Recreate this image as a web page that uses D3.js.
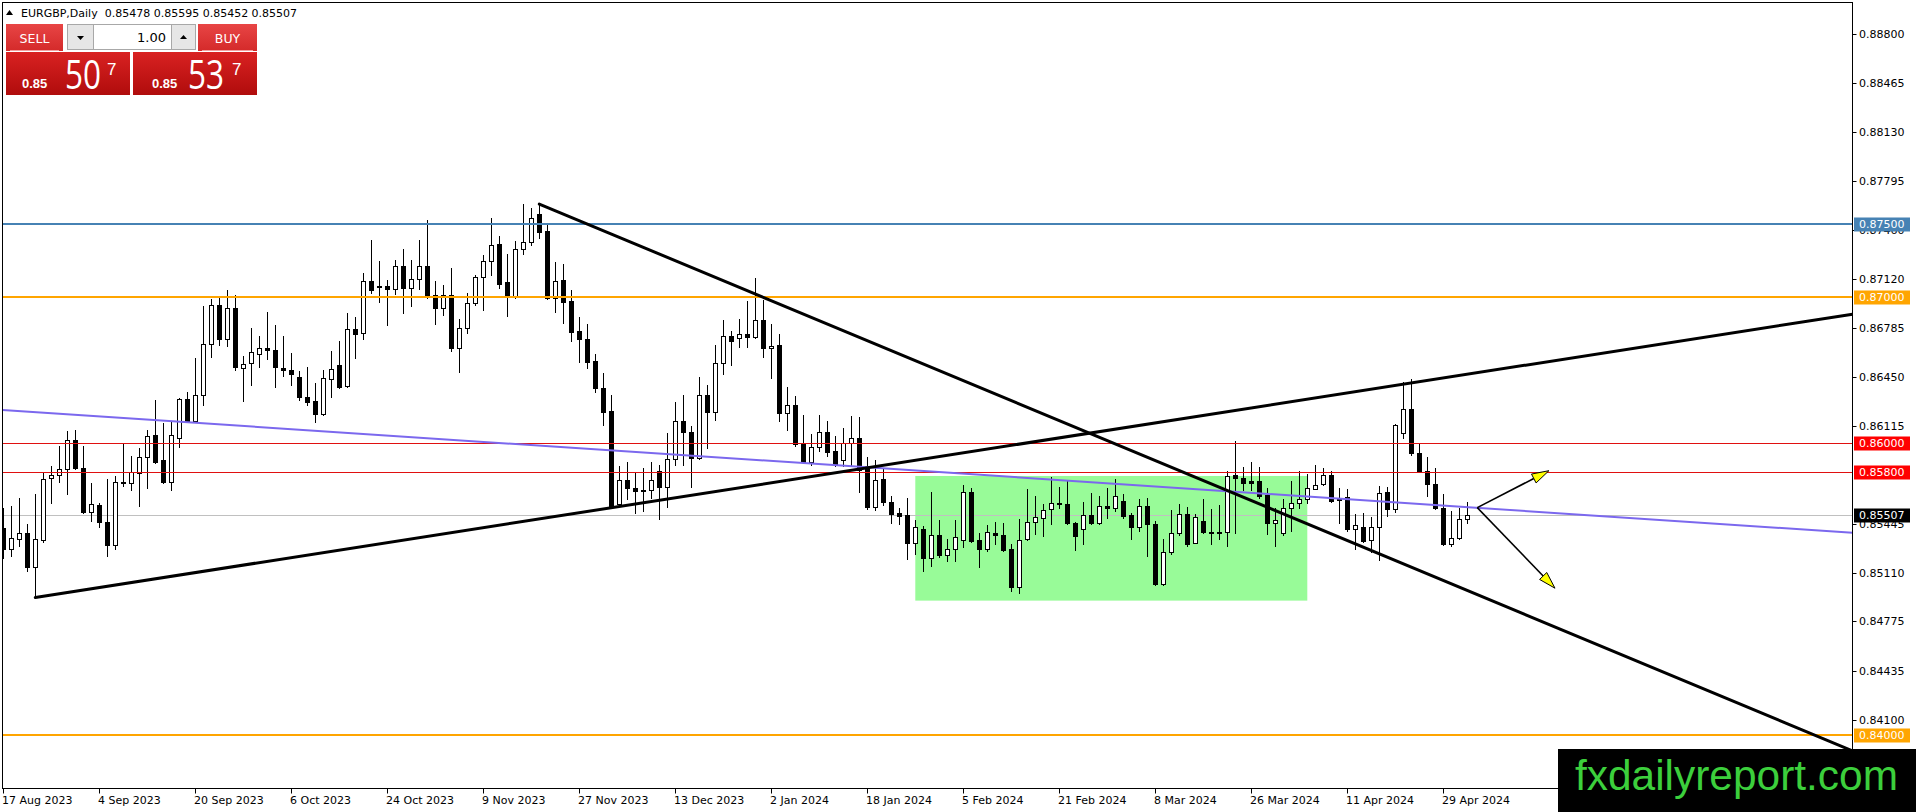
<!DOCTYPE html>
<html><head><meta charset="utf-8">
<script src="https://cdn.jsdelivr.net/npm/d3@7"></script>
<style>html,body{margin:0;padding:0;background:#fff;overflow:hidden}</style>
</head><body><svg id="c" width="1916" height="812" xmlns="http://www.w3.org/2000/svg"></svg>
<script>
// ---------------- DATA ----------------
const symbolTitle = "EURGBP,Daily";
const lastOHLC = ["0.85478","0.85595","0.85452","0.85507"];
const barOpen = [0.85418,0.85269,0.85342,0.85383,0.85149,0.85333,0.85760,0.85780,0.85821,0.86015,0.85828,0.85525,0.85570,0.85459,0.85299,0.85732,0.85725,0.85794,0.85903,0.86056,0.85878,0.85730,0.86033,0.86300,0.86152,0.86325,0.86676,0.86943,0.86710,0.86922,0.86512,0.86546,0.86608,0.86649,0.86637,0.86512,0.86501,0.86451,0.86311,0.86286,0.86197,0.86435,0.86533,0.86389,0.86777,0.86749,0.87109,0.87073,0.87073,0.87050,0.87210,0.87057,0.87119,0.87210,0.87011,0.86920,0.87011,0.86647,0.86783,0.86954,0.87132,0.87244,0.87358,0.87098,0.87005,0.87324,0.87376,0.87570,0.87449,0.86989,0.87114,0.86970,0.86765,0.86708,0.86560,0.86373,0.86220,0.85580,0.85746,0.85689,0.85666,0.85678,0.85808,0.85696,0.85887,0.86150,0.86072,0.85894,0.86327,0.86207,0.86544,0.86731,0.86715,0.86742,0.86726,0.86840,0.86651,0.86670,0.86202,0.86259,0.85997,0.85865,0.85969,0.86070,0.85940,0.85878,0.85997,0.86031,0.85837,0.85559,0.85751,0.85593,0.85518,0.85503,0.85316,0.85412,0.85207,0.85366,0.85229,0.85275,0.85332,0.85665,0.85332,0.85275,0.85384,0.85366,0.85270,0.85008,0.85339,0.85460,0.85487,0.85544,0.85590,0.85583,0.85453,0.85412,0.85507,0.85453,0.85569,0.85555,0.85603,0.85503,0.85419,0.85567,0.85446,0.85031,0.85248,0.85378,0.85514,0.85316,0.85464,0.85391,0.85378,0.85389,0.85777,0.85756,0.85736,0.85736,0.85640,0.85453,0.85378,0.85555,0.85590,0.85612,0.85686,0.85720,0.85777,0.85617,0.85631,0.85412,0.85419,0.85334,0.85419,0.85665,0.85549,0.86068,0.86233,0.85932,0.85806,0.85720,0.85555,0.85309,0.85350,0.85478];
const barHigh = [0.85555,0.85566,0.85618,0.85440,0.85646,0.85794,0.85839,0.85976,0.86083,0.86090,0.85976,0.85721,0.85584,0.85753,0.85771,0.85999,0.85912,0.85965,0.86090,0.86291,0.86136,0.86140,0.86307,0.86348,0.86580,0.86934,0.86986,0.86995,0.87048,0.87014,0.86596,0.86786,0.86733,0.86895,0.86808,0.86729,0.86615,0.86490,0.86521,0.86407,0.86498,0.86628,0.86697,0.86886,0.86863,0.87160,0.87388,0.87244,0.87114,0.87251,0.87326,0.87251,0.87388,0.87524,0.87107,0.87080,0.87194,0.86845,0.87023,0.87148,0.87285,0.87536,0.87417,0.87290,0.87381,0.87638,0.87609,0.87632,0.87490,0.87239,0.87223,0.87046,0.86863,0.86811,0.86606,0.86476,0.86330,0.85837,0.85865,0.85792,0.85826,0.85867,0.85849,0.86065,0.86282,0.86327,0.86111,0.86448,0.86396,0.86669,0.86840,0.86765,0.86845,0.86973,0.87125,0.86977,0.86813,0.86742,0.86384,0.86320,0.86191,0.86058,0.86191,0.86150,0.86047,0.86099,0.86184,0.86179,0.85901,0.85878,0.85819,0.85632,0.85553,0.85624,0.85471,0.85430,0.85665,0.85469,0.85339,0.85469,0.85708,0.85692,0.85384,0.85435,0.85460,0.85453,0.85305,0.85476,0.85685,0.85635,0.85583,0.85767,0.85699,0.85738,0.85460,0.85596,0.85658,0.85635,0.85692,0.85749,0.85651,0.85521,0.85612,0.85619,0.85464,0.85339,0.85537,0.85583,0.85560,0.85514,0.85612,0.85544,0.85571,0.85806,0.86011,0.85834,0.85870,0.85836,0.85692,0.85555,0.85612,0.85738,0.85806,0.85783,0.85847,0.85829,0.85806,0.85692,0.85685,0.85514,0.85517,0.85490,0.85704,0.85699,0.86130,0.86415,0.86433,0.85989,0.85904,0.85824,0.85647,0.85533,0.85555,0.85595];
const barLow = [0.85212,0.85224,0.85292,0.85121,0.84939,0.85320,0.85589,0.85730,0.85646,0.85820,0.85520,0.85463,0.85422,0.85224,0.85269,0.85703,0.85675,0.85566,0.85691,0.85860,0.85725,0.85675,0.85972,0.86140,0.86140,0.86261,0.86587,0.86667,0.86660,0.86496,0.86284,0.86398,0.86517,0.86574,0.86380,0.86455,0.86398,0.86290,0.86259,0.86145,0.86191,0.86316,0.86378,0.86380,0.86583,0.86710,0.87023,0.86966,0.86806,0.87018,0.86891,0.86936,0.87050,0.86989,0.86811,0.86875,0.86628,0.86482,0.86754,0.86943,0.86909,0.87148,0.87062,0.86870,0.86989,0.87296,0.87353,0.87404,0.86984,0.86897,0.86822,0.86699,0.86555,0.86514,0.86346,0.86122,0.85552,0.85575,0.85614,0.85518,0.85529,0.85621,0.85477,0.85557,0.85849,0.85849,0.85696,0.85890,0.85963,0.86156,0.86471,0.86530,0.86653,0.86653,0.86720,0.86585,0.86441,0.86152,0.86088,0.85974,0.85860,0.85849,0.85940,0.85912,0.85837,0.85837,0.85849,0.85659,0.85545,0.85541,0.85575,0.85450,0.85440,0.85202,0.85236,0.85122,0.85156,0.85220,0.85191,0.85191,0.85282,0.85320,0.85150,0.85259,0.85305,0.85259,0.84985,0.84970,0.85330,0.85373,0.85362,0.85441,0.85555,0.85441,0.85266,0.85309,0.85446,0.85446,0.85487,0.85533,0.85482,0.85343,0.85396,0.85225,0.85024,0.85024,0.85236,0.85370,0.85293,0.85311,0.85384,0.85305,0.85339,0.85289,0.85384,0.85674,0.85674,0.85624,0.85373,0.85289,0.85370,0.85396,0.85555,0.85585,0.85680,0.85710,0.85594,0.85453,0.85396,0.85275,0.85320,0.85252,0.85197,0.85498,0.85526,0.86030,0.85916,0.85800,0.85635,0.85549,0.85300,0.85293,0.85343,0.85452];
const barClose = [0.85269,0.85349,0.85383,0.85149,0.85338,0.85753,0.85782,0.85821,0.86015,0.85828,0.85525,0.85577,0.85456,0.85299,0.85732,0.85725,0.85798,0.85903,0.86045,0.85867,0.85730,0.86054,0.86300,0.86152,0.86325,0.86676,0.86943,0.86710,0.86922,0.86517,0.86539,0.86622,0.86649,0.86633,0.86517,0.86496,0.86471,0.86314,0.86282,0.86197,0.86441,0.86505,0.86384,0.86777,0.86742,0.87109,0.87046,0.87070,0.87050,0.87210,0.87057,0.87119,0.87210,0.87005,0.86920,0.87011,0.86651,0.86783,0.86954,0.87132,0.87244,0.87353,0.87087,0.87005,0.87324,0.87376,0.87540,0.87445,0.86989,0.87107,0.86966,0.86761,0.86708,0.86555,0.86373,0.86213,0.85559,0.85746,0.85689,0.85666,0.85673,0.85741,0.85696,0.85887,0.86150,0.86070,0.85894,0.86327,0.86207,0.86544,0.86731,0.86699,0.86742,0.86726,0.86840,0.86651,0.86665,0.86202,0.86259,0.85990,0.85865,0.85969,0.86070,0.85935,0.85856,0.85997,0.86031,0.85815,0.85557,0.85746,0.85593,0.85511,0.85498,0.85316,0.85419,0.85207,0.85366,0.85229,0.85275,0.85357,0.85663,0.85327,0.85275,0.85391,0.85366,0.85266,0.85008,0.85334,0.85460,0.85494,0.85539,0.85590,0.85580,0.85448,0.85362,0.85505,0.85453,0.85567,0.85555,0.85635,0.85498,0.85419,0.85567,0.85446,0.85031,0.85248,0.85378,0.85514,0.85309,0.85494,0.85389,0.85378,0.85391,0.85772,0.85758,0.85722,0.85726,0.85635,0.85453,0.85471,0.85555,0.85590,0.85612,0.85688,0.85713,0.85777,0.85601,0.85608,0.85407,0.85439,0.85327,0.85419,0.85658,0.85549,0.86119,0.86233,0.85932,0.85806,0.85720,0.85555,0.85305,0.85350,0.85480,0.85507];

const dateTickIndex = [0,12,24,36,48,60,72,84,96,108,120,132,144,156,168,180];
const dateTickLabels = ["17 Aug 2023","4 Sep 2023","20 Sep 2023","6 Oct 2023","24 Oct 2023","9 Nov 2023","27 Nov 2023","13 Dec 2023","2 Jan 2024","18 Jan 2024","5 Feb 2024","21 Feb 2024","8 Mar 2024","26 Mar 2024","11 Apr 2024","29 Apr 2024"];
const priceTickValues = [0.88800,0.88465,0.88130,0.87795,0.87460,0.87120,0.86785,0.86450,0.86115,0.85445,0.85110,0.84775,0.84435,0.84100];
const priceTickLabels = ["0.88800","0.88465","0.88130","0.87795","0.87460","0.87120","0.86785","0.86450","0.86115","0.85445","0.85110","0.84775","0.84435","0.84100"];

const levelPrices = [0.87500,0.87000,0.86000,0.85800,0.84000];
const levelLabels = ["0.87500","0.87000","0.86000","0.85800","0.84000"];
const currentPrice = 0.85507;
const currentLabel = "0.85507";

// trend lines: [barIndex, price] anchor pairs
const upTrend = [[4,0.84939],[176,0.86409]];
const downTrend = [[67,0.87635],[180,0.85056]];
const slopeLine = [[0,0.86224],[180,0.85569]];
const boxZone = [[114,0.85772],[163,0.84918]];
const arrowUp = [[184.25,0.85555],[193.2,0.85808]];
const arrowDown = [[184.25,0.85555],[193.96,0.85003]];

const sellPrice = ["0.85","50","7"];
const buyPrice = ["0.85","53","7"];
const lotSize = "1.00";
const watermarkText = "fxdailyreport.com";

// ---------------- DRAW ----------------
const svg = d3.select("#c");
const FONT = "DejaVu Sans, Verdana, sans-serif";
const L = 2.5, T = 2.5, R = 1852.5, B = 788.5;

const x = d3.scaleLinear().domain([0, 183]).range([3.3, 3.3 + 8*183]);
const y = d3.scaleLinear().domain([0.836342, 0.890124]).range([788, 3]);
const xMin = x.invert(L), xMax = x.invert(R);

svg.append("rect").attr("width",1916).attr("height",812).attr("fill","#fff");
const defs = svg.append("defs");
defs.append("clipPath").attr("id","plot").append("rect")
  .attr("x",L).attr("y",T).attr("width",R-L).attr("height",B-T);

const g = svg.append("g").attr("clip-path","url(#plot)");

// zone rectangle (background)
g.append("rect")
  .attr("x", x(boxZone[0][0])).attr("y", y(boxZone[0][1]))
  .attr("width", x(boxZone[1][0]) - x(boxZone[0][0]))
  .attr("height", y(boxZone[1][1]) - y(boxZone[0][1]))
  .attr("fill","#98FB98");

// current price line
g.append("line").attr("x1",L).attr("x2",R)
  .attr("y1",Math.round(y(currentPrice))+0.5).attr("y2",Math.round(y(currentPrice))+0.5)
  .attr("stroke","#C0C0C0").attr("stroke-width",1);

// candles
const idx = d3.range(barOpen.length);
const candles = g.append("g").selectAll("g").data(idx).join("g");
candles.each(function(i){
  const s = d3.select(this);
  const cx = Math.round(x(i));
  const o = barOpen[i], c = barClose[i], h = barHigh[i], l = barLow[i];
  const yTop = Math.round(y(Math.max(o,c))), yBot = Math.round(y(Math.min(o,c)));
  s.append("line").attr("x1",cx+0.5).attr("x2",cx+0.5)
    .attr("y1",Math.round(y(h))).attr("y2",Math.round(y(l))+1)
    .attr("stroke","#000").attr("stroke-width",1);
  const bull = c >= o;
  if (yBot - yTop < 2) {
    s.append("rect").attr("x",cx-2).attr("y",yTop).attr("width",5).attr("height",Math.max(1,yBot-yTop+1)).attr("fill","#000");
  } else if (bull) {
    s.append("rect").attr("x",cx-1.5).attr("y",yTop+0.5).attr("width",4).attr("height",yBot-yTop)
      .attr("fill","#fff").attr("stroke","#000").attr("stroke-width",1);
  } else {
    s.append("rect").attr("x",cx-2).attr("y",yTop).attr("width",5).attr("height",yBot-yTop+1).attr("fill","#000");
  }
});

// horizontal levels
const levelStyles = [["#4682B4",2],["#FFA500",2],["#E01010",1],["#E01010",1],["#FFA500",2]];
const levelBoxFill = ["#4682B4","#FFA500","#FF0000","#FF0000","#FFA500"];
levelPrices.forEach((p,k)=>{
  const yy = levelStyles[k][1]===1 ? Math.round(y(p))+0.5 : Math.round(y(p));
  g.append("line").attr("x1",L).attr("x2",R).attr("y1",yy).attr("y2",yy)
    .attr("stroke",levelStyles[k][0]).attr("stroke-width",levelStyles[k][1]);
});

function lineAt(pts, xi){ const [a,b]=pts; return a[1] + (b[1]-a[1])*(xi-a[0])/(b[0]-a[0]); }

// slope (purple) line across full width
g.append("line")
  .attr("x1",x(xMin)).attr("y1",y(lineAt(slopeLine,xMin)))
  .attr("x2",x(xMax)).attr("y2",y(lineAt(slopeLine,xMax)))
  .attr("stroke","#7B68EE").attr("stroke-width",2);

// black trend rays
[upTrend, downTrend].forEach(tl=>{
  g.append("line")
    .attr("x1",x(tl[0][0])).attr("y1",y(tl[0][1]))
    .attr("x2",x(xMax)).attr("y2",y(lineAt(tl,xMax)))
    .attr("stroke","#000").attr("stroke-width",3).attr("stroke-linecap","round");
});

// arrows
[arrowUp, arrowDown].forEach(a=>{
  const x1=x(a[0][0]), y1=y(a[0][1]), x2=x(a[1][0]), y2=y(a[1][1]);
  const dx=x2-x1, dy=y2-y1, len=Math.hypot(dx,dy), ux=dx/len, uy=dy/len;
  const hl=17, hw=5;
  const bx=x2-ux*hl, by=y2-uy*hl;
  g.append("line").attr("x1",x1).attr("y1",y1).attr("x2",bx).attr("y2",by)
    .attr("stroke","#000").attr("stroke-width",1.6);
  g.append("path")
    .attr("d",`M${x2},${y2}L${bx-uy*hw},${by+ux*hw}L${bx+uy*hw},${by-ux*hw}Z`)
    .attr("fill","#FFFF00").attr("stroke","#000").attr("stroke-width",1);
});

// frame
svg.append("rect").attr("x",L).attr("y",T).attr("width",R-L).attr("height",B-T)
  .attr("fill","none").attr("stroke","#000").attr("stroke-width",1);

// price axis
const pa = svg.append("g").attr("font-family",FONT).attr("font-size",11);
priceTickValues.forEach((p,k)=>{
  const yy = Math.round(y(p))+0.5;
  pa.append("line").attr("x1",R).attr("x2",R+4).attr("y1",yy).attr("y2",yy).attr("stroke","#000");
  pa.append("text").attr("x",1859).attr("y",yy).attr("dy","0.36em").attr("fill","#000").text(priceTickLabels[k]);
});
levelPrices.forEach((p,k)=>{
  const yy = Math.round(y(p));
  pa.append("rect").attr("x",1854).attr("y",yy-6.5).attr("width",56).attr("height",14).attr("fill",levelBoxFill[k]);
  pa.append("text").attr("x",1859).attr("y",yy+0.5).attr("dy","0.36em").attr("fill","#fff").text(levelLabels[k]);
});
{
  const yy = Math.round(y(currentPrice));
  pa.append("rect").attr("x",1854).attr("y",yy-6.5).attr("width",56).attr("height",14).attr("fill","#000");
  pa.append("text").attr("x",1859).attr("y",yy+0.5).attr("dy","0.36em").attr("fill","#fff").text(currentLabel);
}

// date axis
const da = svg.append("g").attr("font-family",FONT).attr("font-size",11);
dateTickIndex.forEach((bi,k)=>{
  const xx = Math.round(x(bi))+0.5;
  da.append("line").attr("x1",xx).attr("x2",xx).attr("y1",B).attr("y2",B+5).attr("stroke","#000");
  da.append("text").attr("x",xx-1.5).attr("y",804).attr("fill","#000").text(dateTickLabels[k]);
});

// header
svg.append("path").attr("d","M6,15L13,15L9.5,10Z").attr("fill","#000");
svg.append("text").attr("x",21).attr("y",17).attr("font-family",FONT).attr("font-size",11).attr("fill","#000")
  .attr("xml:space","preserve")
  .text(symbolTitle + "  " + lastOHLC.join(" "));

// one-click trading panel
const gr1 = defs.append("linearGradient").attr("id","redBig").attr("x1",0).attr("y1",0).attr("x2",0).attr("y2",1);
gr1.append("stop").attr("offset","0%").attr("stop-color","#d92222");
gr1.append("stop").attr("offset","100%").attr("stop-color","#b00c0c");
const gr2 = defs.append("linearGradient").attr("id","redTop").attr("x1",0).attr("y1",0).attr("x2",0).attr("y2",1);
gr2.append("stop").attr("offset","0%").attr("stop-color","#e84545");
gr2.append("stop").attr("offset","100%").attr("stop-color","#d42a2a");

const pnl = svg.append("g");
[[6,63,"SELL"],[198,257,"BUY"]].forEach(([a,b,t])=>{
  pnl.append("rect").attr("x",a).attr("y",24).attr("width",b-a).attr("height",27).attr("fill","url(#redTop)");
  pnl.append("line").attr("x1",a+4).attr("x2",b-4).attr("y1",50.5).attr("y2",50.5).attr("stroke","#f3a0a0");
  pnl.append("text").attr("x",(a+b)/2).attr("y",43).attr("text-anchor","middle")
    .attr("font-family",FONT).attr("font-size",12.5).attr("fill","#fff").text(t);
});
pnl.append("rect").attr("x",67.5).attr("y",24.5).attr("width",26).attr("height",25).attr("fill","#e6e6e6").attr("stroke","#a8a8a8");
pnl.append("path").attr("d","M77,36L84,36L80.5,40Z").attr("fill","#000");
pnl.append("rect").attr("x",93.5).attr("y",24.5).attr("width",78).attr("height",25).attr("fill","#fff").attr("stroke","#a8a8a8");
pnl.append("text").attr("x",166).attr("y",42).attr("text-anchor","end").attr("font-family",FONT).attr("font-size",13).attr("fill","#000").text(lotSize);
pnl.append("rect").attr("x",171.5).attr("y",24.5).attr("width",24).attr("height",25).attr("fill","#e6e6e6").attr("stroke","#a8a8a8");
pnl.append("path").attr("d","M180,39L187,39L183.5,35Z").attr("fill","#000");
[[6,130,sellPrice,[22,65,107]],[133,257,buyPrice,[152,188,232]]].forEach(([a,b,pr,xs])=>{
  pnl.append("rect").attr("x",a).attr("y",52).attr("width",b-a).attr("height",43).attr("fill","url(#redBig)");
  pnl.append("text").attr("x",xs[0]).attr("y",88).attr("font-family","Liberation Sans, Arial, sans-serif")
    .attr("font-weight","bold").attr("font-size",13).attr("fill","#fff").text(pr[0]);
  pnl.append("text").attr("x",xs[1]).attr("y",89).attr("font-family","Open Sans, sans-serif")
    .attr("font-size",40).attr("fill","#fff").attr("textLength",36).attr("lengthAdjust","spacingAndGlyphs").text(pr[1]);
  pnl.append("text").attr("x",xs[2]).attr("y",75).attr("font-family","Liberation Sans, Arial, sans-serif")
    .attr("font-size",17).attr("fill","#fff").text(pr[2]);
});

// watermark
svg.append("rect").attr("x",1558).attr("y",749).attr("width",358).attr("height",63).attr("fill","#000");
svg.append("text").attr("x",1575).attr("y",790).attr("font-family","Liberation Sans, Arial, sans-serif")
  .attr("font-size",42.5).attr("fill","#3ccf3c").attr("textLength",323).attr("lengthAdjust","spacingAndGlyphs")
  .text(watermarkText);
</script>
</body></html>
